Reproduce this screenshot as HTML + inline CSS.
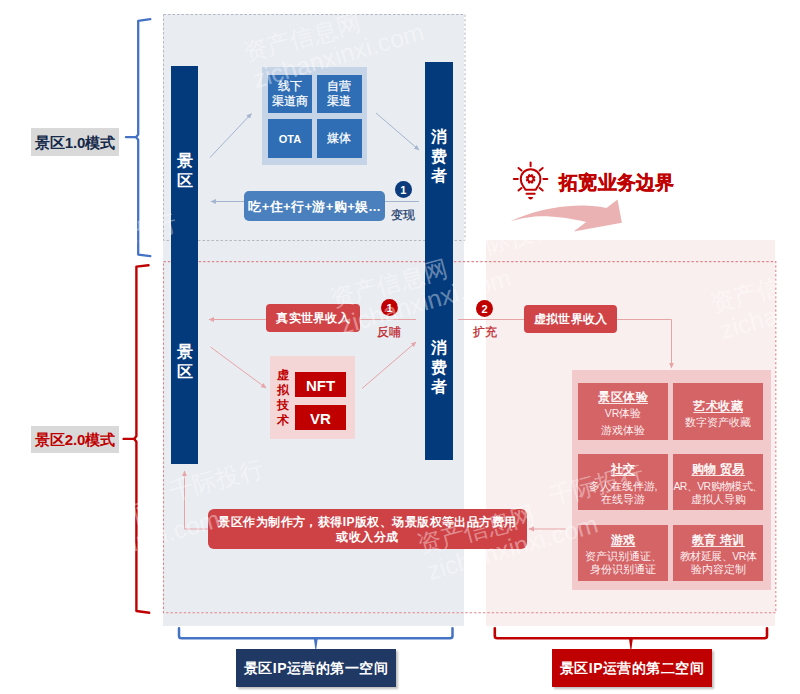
<!DOCTYPE html>
<html><head><meta charset="utf-8">
<style>
html,body{margin:0;padding:0;background:#fff;}
body{width:800px;height:694px;position:relative;overflow:hidden;font-family:"Liberation Sans",sans-serif;}
.a{position:absolute;box-sizing:border-box;}
.c{display:flex;align-items:center;justify-content:center;text-align:center;}
.w{color:#fff;}
.b{font-weight:bold;}
svg{position:absolute;left:0;top:0;}
.vt{text-align:center;}
.tx{-webkit-text-stroke:0.25px currentColor;}
.wm{position:absolute;font-size:24px;line-height:25px;color:rgba(255,255,255,0.4);white-space:nowrap;transform:rotate(-15deg);transform-origin:0 100%;}
.cell{width:90px;height:56px;background:#d56467;color:#fff;}
.tt{position:absolute;left:-10px;right:-10px;text-align:center;font-size:12px;line-height:14px;font-weight:normal;-webkit-text-stroke:0.4px #fff;letter-spacing:0.4px;text-indent:0.4px;text-decoration:underline;text-decoration-thickness:1.3px;text-decoration-color:rgba(255,255,255,0.85);text-underline-offset:2px;white-space:nowrap;}
.st{position:absolute;left:-10px;right:-10px;text-align:center;font-size:10.5px;line-height:14px;white-space:nowrap;color:rgba(255,255,255,0.92);}
</style></head><body>
<!-- panels -->
<div class="a" style="left:163px;top:14px;width:301px;height:612px;background:#e9ecf1;"></div>
<div class="a" style="left:486px;top:240px;width:289px;height:386px;background:#faefef;"></div>

<svg width="800" height="694" viewBox="0 0 800 694">
  <rect x="163.5" y="14.5" width="301.5" height="226" fill="none" stroke="#b4b8c0" stroke-width="1" stroke-dasharray="2.5,2"/>
  <rect x="163.5" y="261.6" width="612.3" height="351.2" fill="none" stroke="#e0878b" stroke-width="1.1" stroke-dasharray="2.4,2"/>
</svg>
<!-- labels left -->
<div class="a c b" style="left:31px;top:128px;width:88px;height:28px;background:#d9d9d9;color:#15294a;font-size:15px;padding-top:2px;letter-spacing:-0.1px;">景区1.0模式</div>
<div class="a c b" style="left:31px;top:426px;width:88px;height:27px;background:#d9d9d9;color:#c00000;font-size:15px;padding-top:1px;letter-spacing:-0.1px;">景区2.0模式</div>

<!-- vertical bars -->
<div class="a" style="left:171px;top:66px;width:27px;height:398px;background:#023a7c;"></div>
<div class="a" style="left:425px;top:62px;width:28px;height:398px;background:#023a7c;"></div>
<div class="a w b vt" style="left:171px;top:151px;width:27px;font-size:16px;line-height:19.5px;">景<br>区</div>
<div class="a w b vt" style="left:171px;top:342px;width:27px;font-size:16px;line-height:19.5px;">景<br>区</div>
<div class="a w b vt" style="left:425px;top:127px;width:28px;font-size:16px;line-height:19.5px;">消<br>费<br>者</div>
<div class="a w b vt" style="left:425px;top:338px;width:28px;font-size:16px;line-height:19.5px;">消<br>费<br>者</div>

<!-- channel grid -->
<div class="a" style="left:262px;top:67px;width:105px;height:97.5px;background:#c6d4e7;"></div>
<div class="a c w tx" style="left:268px;top:75px;width:44px;height:38px;background:#2f6db5;font-size:12px;line-height:15px;">线下<br>渠道商</div>
<div class="a c w tx" style="left:317px;top:75px;width:44.5px;height:38px;background:#2f6db5;font-size:12px;line-height:15px;">自营<br>渠道</div>
<div class="a c w b" style="left:268px;top:119px;width:44px;height:38.5px;background:#2f6db5;font-size:11px;padding-top:1px;">OTA</div>
<div class="a c w tx" style="left:317px;top:119px;width:44.5px;height:38.5px;background:#2f6db5;font-size:12px;padding-top:1px;">媒体</div>

<!-- blue button -->
<div class="a c w b" style="left:244px;top:191px;width:141px;height:30px;background:#4a80bd;border-radius:5px;font-size:13px;letter-spacing:0.4px;padding-top:2px;">吃+住+行+游+购+娱...</div>
<div class="a c b" style="left:394.5px;top:181px;width:17.5px;height:17px;border-radius:50%;background:#0b3b7c;color:#fff;font-size:11px;">1</div>
<div class="a tx" style="left:391px;top:207px;font-size:12px;color:#23406e;line-height:16px;">变现</div>

<!-- red real world -->
<div class="a c w b" style="left:266px;top:304px;width:94px;height:28px;background:#d04448;border-radius:4px;font-size:12px;letter-spacing:0.25px;padding-top:1px;">真实世界收入</div>
<div class="a c w b" style="left:381px;top:299px;width:17px;height:17px;border-radius:50%;background:#c00000;font-size:11px;">1</div>
<div class="a tx" style="left:377px;top:323.5px;font-size:12px;color:#c0272d;line-height:16px;">反哺</div>

<div class="a c w b" style="left:476px;top:300px;width:17px;height:17px;border-radius:50%;background:#c00000;font-size:11px;">2</div>
<div class="a tx" style="left:472.5px;top:323.5px;font-size:12px;color:#c0272d;line-height:16px;">扩充</div>
<div class="a c w b" style="left:524px;top:305px;width:93px;height:28px;background:#d04448;border-radius:4px;font-size:12px;letter-spacing:0.25px;padding-top:1px;">虚拟世界收入</div>

<!-- tech box -->
<div class="a" style="left:269.5px;top:356px;width:85px;height:83px;background:#f5d6d7;"></div>
<div class="a b" style="left:274px;top:368px;width:17px;text-align:center;color:#c00000;font-size:12px;line-height:15px;">虚<br>拟<br>技<br>术</div>
<div class="a c w b" style="left:295px;top:372px;width:51px;height:25px;background:#c00000;font-size:15px;padding-top:1px;">NFT</div>
<div class="a c w b" style="left:295px;top:405px;width:51px;height:25px;background:#c00000;font-size:15px;padding-top:1px;">VR</div>

<!-- right grid -->
<div class="a" style="left:572px;top:370px;width:199px;height:219.5px;background:#f3cacb;"></div>
<div class="a cell" style="left:578px;top:383px;height:57px;">
  <div class="tt" style="top:7px;">景区体验</div>
  <div class="st" style="top:23px;">VR体验</div><div class="st" style="top:39.5px;">游戏体验</div></div>
<div class="a cell" style="left:673px;top:383px;height:57px;">
  <div class="tt" style="top:15.5px;">艺术收藏</div>
  <div class="st" style="top:32px;">数字资产收藏</div></div>
<div class="a cell" style="left:578px;top:454px;">
  <div class="tt" style="top:8px;">社交</div>
  <div class="st" style="top:25px;">多人在线伴游,</div><div class="st" style="top:37.5px;">在线导游</div></div>
<div class="a cell" style="left:673px;top:454px;">
  <div class="tt" style="top:8px;">购物 贸易</div>
  <div class="st" style="top:25px;letter-spacing:-0.6px;">AR、VR购物模式、</div><div class="st" style="top:37.5px;">虚拟人导购</div></div>
<div class="a cell" style="left:578px;top:525px;">
  <div class="tt" style="top:7.5px;">游戏</div>
  <div class="st" style="top:24px;">资产识别通证、</div><div class="st" style="top:37px;">身份识别通证</div></div>
<div class="a cell" style="left:673px;top:525px;">
  <div class="tt" style="top:7.5px;">教育 培训</div>
  <div class="st" style="top:24px;letter-spacing:-0.5px;">教材延展、VR体</div><div class="st" style="top:37px;">验内容定制</div></div>

<!-- wide bar -->
<div class="a c w b" style="left:208px;top:509px;width:319px;height:40px;background:#ce4246;border-radius:6px;font-size:12px;line-height:14.5px;padding-top:1px;letter-spacing:0.44px;">景区作为制作方，获得IP版权、场景版权等出品方费用<br>或收入分成</div>

<!-- title -->
<div class="a b" style="left:559px;top:171px;font-size:19px;line-height:24px;color:#c00000;letter-spacing:0.3px;-webkit-text-stroke:0.4px #c00000;">拓宽业务边界</div>

<!-- bottom labels -->
<div class="a c w b" style="left:236px;top:649px;width:160px;height:38px;background:#1f3864;font-size:14px;letter-spacing:0.45px;padding-top:2px;box-shadow:2px 2px 2px rgba(0,0,0,0.25);">景区IP运营的第一空间</div>
<div class="a c w b" style="left:552px;top:649px;width:160px;height:38px;background:#c00000;font-size:14px;letter-spacing:0.45px;padding-top:2px;box-shadow:2px 2px 2px rgba(0,0,0,0.25);">景区IP运营的第二空间</div>

<svg width="800" height="694" viewBox="0 0 800 694">
  <defs>
    <marker id="ab" markerWidth="8" markerHeight="8" refX="5" refY="4" orient="auto" markerUnits="userSpaceOnUse"><path d="M0,1.6 L5.5,4 L0,6.4 Z" fill="#a3b5cf"/></marker>
    <marker id="ar" markerWidth="8" markerHeight="8" refX="5" refY="4" orient="auto" markerUnits="userSpaceOnUse"><path d="M0,1.6 L5.5,4 L0,6.4 Z" fill="#e6a4a7"/></marker>
  </defs>
  <!-- blue arrows -->
  <line x1="210" y1="157.5" x2="251.5" y2="113.5" stroke="#a3b5cf" stroke-width="1" marker-end="url(#ab)"/>
  <line x1="376" y1="113" x2="419" y2="150" stroke="#a3b5cf" stroke-width="1" marker-end="url(#ab)"/>
  <line x1="244" y1="201.5" x2="211" y2="201.5" stroke="#a3b5cf" stroke-width="1" marker-end="url(#ab)"/>
  <line x1="385" y1="201.5" x2="419" y2="201.5" stroke="#a3b5cf" stroke-width="1"/>
  <!-- red arrows -->
  <line x1="266" y1="319.5" x2="209" y2="319.5" stroke="#e6a4a7" stroke-width="1" marker-end="url(#ar)"/>
  <line x1="360" y1="319.5" x2="416" y2="319.5" stroke="#e6a4a7" stroke-width="1"/>
  <line x1="458" y1="319.5" x2="524" y2="319.5" stroke="#e6a4a7" stroke-width="1"/>
  <polyline points="617,319.5 671.5,319.5 671.5,368" fill="none" stroke="#e6a4a7" stroke-width="1" marker-end="url(#ar)"/>
  <line x1="210.5" y1="347" x2="266" y2="388" stroke="#e6a4a7" stroke-width="1" marker-end="url(#ar)"/>
  <line x1="362" y1="388.5" x2="416" y2="342" stroke="#e6a4a7" stroke-width="1" marker-end="url(#ar)"/>
  <polyline points="208,529 184.5,529 184.5,471" fill="none" stroke="#e6a4a7" stroke-width="1" marker-end="url(#ar)"/>
  <line x1="566" y1="529" x2="529" y2="529" stroke="#e6a4a7" stroke-width="1" marker-end="url(#ar)"/>
  <!-- brackets -->
  <g fill="none" stroke-linejoin="round" stroke-linecap="round">
  <path d="M150.3,19.2 L138.2,20.8 L138.2,134.5 L136,137.2 L126,137.2 M136,137.2 L138.2,139.8 L138.2,254.6 L150.3,256.1" stroke="#4472c4" stroke-width="2.3"/>
  <path d="M148.5,265.3 L136.4,266.6 L136.4,436 L134.2,438.9 L123.6,438.9 M134.2,438.9 L136.4,441.8 L136.4,611 L149.2,612.8" stroke="#c00000" stroke-width="2.4"/>
  <path d="M179,628.2 L179,636 Q179,638.3 181.5,638.3 L450,638.3 Q452.5,638.3 452.5,636 L452.5,628.2" stroke="#4472c4" stroke-width="2.5"/>
  <path d="M494.8,628.2 L494.8,636 Q494.8,638.3 497.3,638.3 L764.5,638.3 Q767,638.3 767,636 L767,628.2" stroke="#c00000" stroke-width="2.6"/>
  </g>
  <path d="M313.8,638 L317.8,638 L316.3,649 L315.3,649 Z" fill="#4472c4"/>
  <path d="M628.9,638 L632.9,638 L631.4,649 L630.4,649 Z" fill="#c00000"/>
  <!-- curved arrow -->
  <path d="M510.5,221.3 C530,212 555,206 580,205.5 C592,205.5 600,206.5 606.5,208 L617.5,199.4 L621.9,222.8 L573.7,231.4 L586.2,222 C570,218 550,215.5 535,216.5 C525,217.5 517,219.5 510.5,221.3 Z" fill="#ebb2b3"/>
  <!-- bulb icon -->
  <g stroke="#c00000" stroke-width="2" fill="none" stroke-linecap="round">
    <line x1="530.6" y1="162.5" x2="530.6" y2="166.3"/>
    <line x1="513.8" y1="179" x2="517.8" y2="179"/>
    <line x1="543.4" y1="179" x2="547.4" y2="179"/>
    <line x1="518.5" y1="168" x2="521.5" y2="170.5"/>
    <line x1="542.7" y1="168" x2="539.7" y2="170.5"/>
    <line x1="518.5" y1="190.5" x2="521.5" y2="188"/>
    <line x1="542.7" y1="190.5" x2="539.7" y2="188"/>
    <path d="M525.5,189.8 L522.8,185.5 Q520.8,182.5 520.8,179 A9.8,9.8 0 0 1 540.4,179 Q540.4,182.5 538.4,185.5 L535.7,189.8 Z"/>
    <line x1="526.5" y1="193.8" x2="534.7" y2="193.8"/>
  </g>
  <path d="M528,197 L533.2,197 Q532.5,199.5 530.6,199.5 Q528.7,199.5 528,197 Z" fill="#c00000"/>
  <path fill-rule="evenodd" fill="#c00000" d="M534.30,178.87 L535.50,179.78 L534.76,181.58 L533.27,181.36 L533.16,181.47 L533.38,182.96 L531.58,183.70 L530.67,182.50 L530.53,182.50 L529.62,183.70 L527.82,182.96 L528.04,181.47 L527.93,181.36 L526.44,181.58 L525.70,179.78 L526.90,178.87 L526.90,178.73 L525.70,177.82 L526.44,176.02 L527.93,176.24 L528.04,176.13 L527.82,174.64 L529.62,173.90 L530.53,175.10 L530.67,175.10 L531.58,173.90 L533.38,174.64 L533.16,176.13 L533.27,176.24 L534.76,176.02 L535.50,177.82 L534.30,178.73 Z M532.5,178.8 A1.9,1.9 0 1 0 528.7,178.8 A1.9,1.9 0 1 0 532.5,178.8 Z"/>
</svg>
<!-- watermarks -->
<div class="a" style="left:0;top:0;width:800px;height:694px;pointer-events:none;">
<div class="wm" style="left:246.5px;top:39.5px;">资产信息网</div>
<div class="wm" style="left:256.8px;top:66.5px;font-size:25px;transform:rotate(-16deg);">zichanxinxi.com</div>
<div class="wm" style="left:333.5px;top:285.5px;">资产信息网</div>
<div class="wm" style="left:343.8px;top:312.5px;font-size:25px;transform:rotate(-16deg);">zichanxinxi.com</div>
<div class="wm" style="left:420.5px;top:531.5px;">资产信息网</div>
<div class="wm" style="left:430.8px;top:558.5px;font-size:25px;transform:rotate(-16deg);">zichanxinxi.com</div>
<div class="wm" style="left:626.5px;top:44.5px;">资产信息网</div>
<div class="wm" style="left:636.8px;top:71.5px;font-size:25px;transform:rotate(-16deg);">zichanxinxi.com</div>
<div class="wm" style="left:713.5px;top:290.5px;">资产信息网</div>
<div class="wm" style="left:723.8px;top:317.5px;font-size:25px;transform:rotate(-16deg);">zichanxinxi.com</div>
<div class="wm" style="left:42.5px;top:526.5px;">资产信息网</div>
<div class="wm" style="left:52.8px;top:553.5px;font-size:25px;transform:rotate(-16deg);">zichanxinxi.com</div>
<div class="wm" style="left:173.0px;top:478.5px;">千际投行</div>
<div class="wm" style="left:86.0px;top:232.5px;">千际投行</div>
<div class="wm" style="left:553.0px;top:483.5px;">千际投行</div>
<div class="wm" style="left:466.0px;top:237.5px;">千际投行</div>
</div>
</body></html>
